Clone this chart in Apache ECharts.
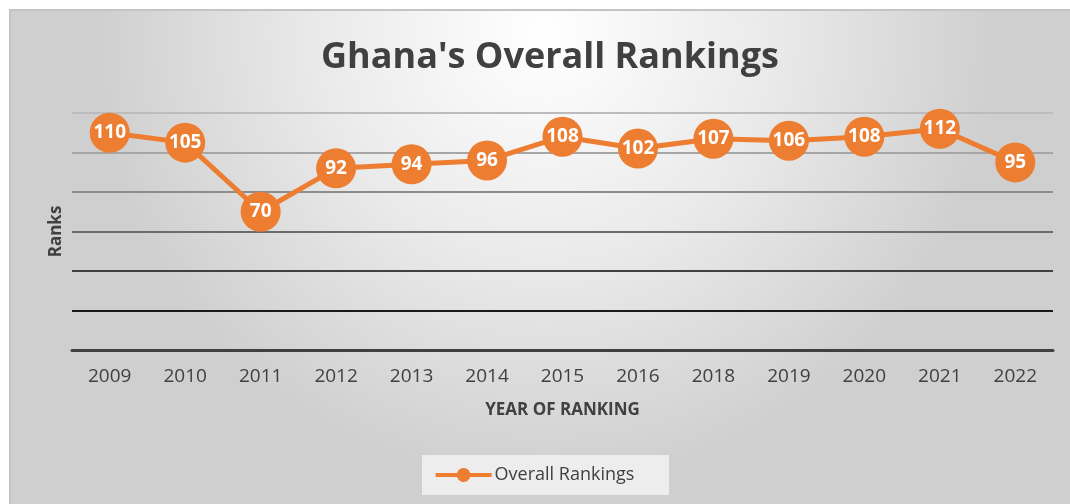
<!DOCTYPE html>
<html lang="en">
<head>
    <meta charset="UTF-8">
    <title>Ghana's Overall Rankings</title>
    <style>
        html, body { margin: 0; padding: 0; background: #fff; }
        #chart { width: 1070px; height: 504px; }
    </style>
</head>
<body>
    <div id="chart"></div>
</body>
<script src="https://cdn.jsdelivr.net/npm/echarts@6/dist/echarts.min.js"></script>
<script>
    // 数据
    const years = ['2009', '2010', '2011', '2012', '2013', '2014', '2015', '2016', '2018', '2019', '2020', '2021', '2022']
    const ranks = [110, 105, 70, 92, 94, 96, 108, 102, 107, 106, 108, 112, 95]
    const yTicks = [0, 20, 40, 60, 80, 100, 120]

    const orange = '#ED7D31'
    const font = '"Open Sans", Lato, sans-serif'

    let chart = echarts.init(document.getElementById('chart'))

    chart.setOption({
        animation: false,
        textStyle: { fontFamily: font },
        graphic: [{
            type: 'rect',
            z: -10,
            silent: true,
            shape: { x: 10, y: 10, width: 1070, height: 500 },
            style: {
                fill: new echarts.graphic.RadialGradient(0.5, 0.05, 0.9, [
                    { offset: 0, color: '#ffffff' },
                    { offset: 0.5, color: '#eaeaea' },
                    { offset: 1, color: '#cfcfcf' }
                ]),
                stroke: '#c4c4c4',
                lineWidth: 2
            }
        }, {
            type: 'rect',
            z: -5,
            silent: true,
            shape: { x: 422, y: 455, width: 247, height: 40 },
            style: { fill: 'rgba(240,240,240,0.9)' }
        }],
        title: {
            text: "Ghana's Overall Rankings",
            left: 545,
            top: 35,
            textAlign: 'center',
            textStyle: { fontSize: 36, fontWeight: 'bold', color: '#404040', fontFamily: font }
        },
        legend: {
            bottom: 15,
            left: 'center',
            itemWidth: 60,
            itemHeight: 14,
            itemGap: 4,
            textStyle: { fontSize: 18, color: '#404040', fontFamily: font, padding: [0, 0, 0, -4] },
            data: [{
                name: 'Overall Rankings',
                icon: 'path://M0,5.5 H15.23 A5,5 0 0,1 24.77,5.5 H40 V8.5 H24.77 A5,5 0 0,1 15.23,8.5 H0 Z'
            }]
        },
        grid: { left: 72, right: 17, top: 113, bottom: 154 },
        xAxis: {
            type: 'category',
            data: years,
            name: 'YEAR OF RANKING',
            nameLocation: 'middle',
            nameGap: 52,
            nameTextStyle: { fontSize: 17, fontWeight: 'bold', color: '#404040', fontFamily: font },
            axisLine: { lineStyle: { color: '#404040', width: 3 } },
            axisTick: { show: false },
            axisLabel: { fontSize: 19, color: '#404040', margin: 17, fontFamily: font }
        },
        yAxis: {
            type: 'value',
            min: yTicks[0],
            max: yTicks[yTicks.length - 1],
            interval: 20,
            name: 'Ranks',
            nameLocation: 'middle',
            nameGap: 7,
            nameTextStyle: { fontSize: 17, fontWeight: 'bold', color: '#404040', fontFamily: font },
            axisLabel: { show: false },
            axisLine: { show: false },
            axisTick: { show: false },
            splitLine: {
                lineStyle: {
                    width: 2,
                    color: ['#404040', '#1a1a1a', '#404040', '#6b6b6b', '#8c8c8c', '#a6a6a6', '#bcbcbc']
                }
            }
        },
        series: [{
            name: 'Overall Rankings',
            type: 'line',
            data: ranks,
            symbol: 'circle',
            symbolSize: 40,
            itemStyle: { color: orange },
            lineStyle: { color: orange, width: 5 },
            label: {
                show: true,
                position: 'inside',
                color: '#fff',
                fontSize: 19,
                fontWeight: 'bold',
                fontFamily: font
            }
        }]
    })
</script>
</html>
